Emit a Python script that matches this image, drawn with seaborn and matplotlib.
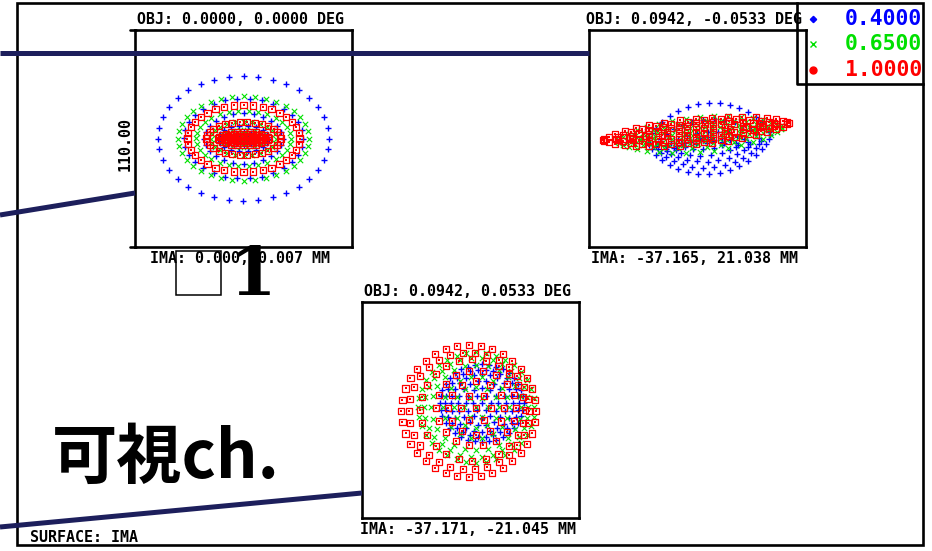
import numpy as np
import pandas as pd
import matplotlib
matplotlib.use("Agg")
import matplotlib.pyplot as plt
from matplotlib.patches import Rectangle
import seaborn as sns

sns.set_theme(style="white")
plt.rcParams["font.family"] = ["DejaVu Sans Mono", "Noto Sans CJK JP"]

# ---------------- data ----------------
WAVELENGTHS = ["0.4000", "0.6500", "1.0000"]
WL_COLORS = ["#0000ff", "#00e000", "#ff0000"]
OBJ_LABELS = ["OBJ: 0.0000, 0.0000 DEG", "OBJ: 0.0942, -0.0533 DEG", "OBJ: 0.0942, 0.0533 DEG"]
IMA_LABELS = ["IMA: 0.000, 0.007 MM", "IMA: -37.165, 21.038 MM", "IMA: -37.171, -21.045 MM"]
SCALE_LABEL = "110.00"
BOX_UM = 110.0
SURFACE_LABEL = "SURFACE: IMA"
TITLE_JP = "可視ch."

# spot rings per pupil ring 1..6 : (centre x, centre y, semi-axis x, semi-axis y) in µm
P1_BLUE = [(0, 0, 4.1, 1.5), (0, 0, 7.6, 3.3), (0, 0, 12.7, 6.6), (0, 0, 19.8, 12.7), (0, 0, 30.4, 20.3), (0, 0, 43.5, 31.8)]
P1_GREEN = [(0, 0, 3.0, 1.0), (0, 0, 6.1, 2.3), (0, 0, 10.6, 4.6), (0, 0, 16.7, 8.6), (0, 0, 24.3, 14.2), (0, 0, 33.2, 21.5)]
P1_RED = [(0, 0, 3.0, 0.8), (0, 0, 6.1, 1.5), (0, 0, 9.1, 2.5), (0, 0, 12.7, 3.5), (0, 0, 18.8, 8.4), (0, 0, 28.4, 17.0)]

P2_BLUE = [(2.0, -1.5, 5.6, 1.3), (3.0, -3.0, 10.6, 2.5), (4.1, -4.1, 16.2, 4.6), (5.1, -4.1, 21.3, 7.6), (5.6, -2.5, 26.4, 12.2), (5.8, 0, 30.9, 18.0)]
P2_GREEN = [(0, 2.0, 7.6, 1.5), (0, 2.0, 15.2, 2.5), (0, 2.0, 22.8, 3.8), (0.5, 2.0, 29.4, 5.0), (1.0, 2.0, 35.5, 6.5), (1.3, 2.0, 41.6, 8.9)]
P2_RED = [(-0.8, 3.5, 8.6, 1.5), (-0.8, 3.5, 17.2, 2.5), (-0.8, 3.5, 25.3, 3.5), (-0.8, 3.5, 33.5, 4.5), (-0.8, 3.5, 40.6, 5.5), (-0.8, 3.5, 47.1, 6.5)]

P3_BLUE = [(5.8, 3.5, 4.6, 4.1), (5.8, 3.5, 8.1, 7.6), (5.8, 3.5, 12.2, 11.2), (5.8, 3.5, 15.7, 14.7), (5.8, 3.5, 18.8, 17.2), (5.8, 3.5, 21.3, 19.8)]
P3_GREEN = [(3.0, 1.3, 6.1, 5.6), (3.0, 1.3, 11.2, 10.6), (3.0, 1.3, 16.7, 15.7), (3.0, 1.3, 22.8, 21.8), (3.0, 1.3, 26.4, 25.3), (3.0, 1.3, 29.4, 28.1)]
P3_RED = [(3.0, 1.0, 7.6, 7.1), (3.0, 1.0, 14.2, 13.7), (3.0, 1.0, 20.3, 19.3), (1.0, 0, 26.4, 25.9), (-0.8, -0.5, 30.4, 29.9), (-0.8, -0.5, 34.2, 33.5)]

P1_TILT = [0.0, 0.0, 0.0]
P2_TILT = [0.05, 0.085, 0.09]
P3_TILT = [0.0, 0.0, 0.0]
SHAPE_POWER = [1.0, 1.4, 1.0]

PANELS = [
    ([P1_BLUE, P1_GREEN, P1_RED], P1_TILT),
    ([P2_BLUE, P2_GREEN, P2_RED], P2_TILT),
    ([P3_BLUE, P3_GREEN, P3_RED], P3_TILT),
]


def spot_frame(rings, tilt, power, wl):
    xs = [rings[0][0]]
    ys = [rings[0][1]]
    for k, (cx, cy, rx, ry) in enumerate(rings, start=1):
        t = 2 * np.pi * np.arange(6 * k) / (6 * k)
        s = np.sin(t)
        dx = rx * np.cos(t)
        dy = ry * np.sign(s) * np.abs(s) ** power
        xs.extend(cx + dx)
        ys.extend(cy + dy + tilt * dx)
    return pd.DataFrame({"x": xs, "y": ys, "wl": wl})


# ---------------- figure ----------------
W, H = 932, 551
fig = plt.figure(figsize=(W / 100, H / 100), dpi=100)
fig.patch.set_facecolor("white")

# panel boxes in pixels (x0, y0, x1, y1)
BOXES = [(135, 30, 352, 247), (589, 30, 806, 247), (362, 302, 579, 518)]


def px_axes(x0, y0, x1, y1):
    return fig.add_axes([x0 / W, 1 - y1 / H, (x1 - x0) / W, (y1 - y0) / H])


for i, (box, (ring_sets, tilts)) in enumerate(zip(BOXES, PANELS)):
    ax = px_axes(*box)
    ax.set_facecolor("white")
    for j, rings in enumerate(ring_sets):
        df = spot_frame(rings, tilts[j], SHAPE_POWER[i], WAVELENGTHS[j])
        if j == 0:
            sns.scatterplot(data=df, x="x", y="y", ax=ax, marker="+", color=WL_COLORS[j],
                            s=22, linewidth=1.0, legend=False, zorder=2)
        elif j == 1:
            sns.scatterplot(data=df, x="x", y="y", ax=ax, marker="x", color=WL_COLORS[j],
                            s=15, linewidth=0.8, legend=False, zorder=3)
        else:
            sns.scatterplot(data=df, x="x", y="y", ax=ax, marker="s", edgecolor=WL_COLORS[j],
                            s=19, linewidth=0.9, legend=False, zorder=4)
            ax.collections[-1].set_facecolor("none")
            sns.scatterplot(data=df, x="x", y="y", ax=ax, marker="s", color=WL_COLORS[j],
                            s=1.5, linewidth=0, legend=False, zorder=4)
    ax.set_xlim(-BOX_UM / 2, BOX_UM / 2)
    ax.set_ylim(-BOX_UM / 2, BOX_UM / 2)
    ax.set_xticks([])
    ax.set_yticks([])
    ax.set_xlabel("")
    ax.set_ylabel("")
    for sp in ax.spines.values():
        sp.set_visible(True)
        sp.set_color("black")
        sp.set_linewidth(1.9)

# ---------------- overlay ----------------
ov = fig.add_axes([0, 0, 1, 1], zorder=10)
ov.set_xlim(0, W)
ov.set_ylim(H, 0)
ov.axis("off")
ov.patch.set_alpha(0)

LW = 1.9
# outer frame
ov.add_patch(Rectangle((17, 3), 906, 542, fill=False, ec="black", lw=LW))
# legend box
ov.plot([797, 797, 923], [3, 84, 84], color="black", lw=LW, solid_capstyle="projecting")
# scale ticks on panel 1
ov.plot([130, 136], [30, 30], color="black", lw=LW)
ov.plot([130, 136], [247, 247], color="black", lw=LW)

fs = 10.8
for (x0, y0, x1, y1), o, m in zip(BOXES, OBJ_LABELS, IMA_LABELS):
    cx = (x0 + x1) / 2 - 3
    ov.text(cx, y0 - 10.5, o, ha="center", va="center", fontsize=fs, fontweight="bold", color="black")
    ov.text(cx, y1 + 11.5, m, ha="center", va="center", fontsize=fs, fontweight="bold", color="black")

ov.text(125, 144, SCALE_LABEL, rotation=90, ha="center", va="center", fontsize=fs,
        fontweight="bold", color="black")
ov.text(30, 537, SURFACE_LABEL, ha="left", va="center", fontsize=fs, fontweight="bold", color="black")

# legend
leg_y = [19, 44, 70]
ov.plot([813], [leg_y[0]], marker="D", ms=3.2, color=WL_COLORS[0], ls="none")
ov.plot([813], [leg_y[1]], marker="x", ms=4, mew=1.0, color=WL_COLORS[1], ls="none")
ov.plot([813], [leg_y[2]], marker="o", ms=5, color=WL_COLORS[2], ls="none")
for y, lab, c in zip(leg_y, WAVELENGTHS, WL_COLORS):
    ov.text(922, y, lab, ha="right", va="center", fontsize=15.4, fontweight="bold", color=c)

# slide overlays: navy connector lines, big "1", small box, title
NAVY = "#1d1f5c"
ov.plot([0, 589], [52.5, 52.5], color=NAVY, lw=3.6, solid_capstyle="butt")
ov.plot([0, 135], [215, 193], color=NAVY, lw=3.6, solid_capstyle="butt")
ov.plot([0, 362], [527, 493], color=NAVY, lw=3.6, solid_capstyle="butt")

ov.add_patch(Rectangle((176, 251), 45, 44, fill=False, ec="black", lw=1.1))
ov.text(253, 295, "1", ha="center", va="baseline", fontsize=48, fontweight="bold",
        family="DejaVu Serif", color="black")
ov.text(52, 478, TITLE_JP, ha="left", va="baseline", fontsize=47, fontweight="bold",
        family=["Noto Sans CJK JP", "DejaVu Sans"], color="black")

fig.savefig("out.png", dpi=100, facecolor="white")
